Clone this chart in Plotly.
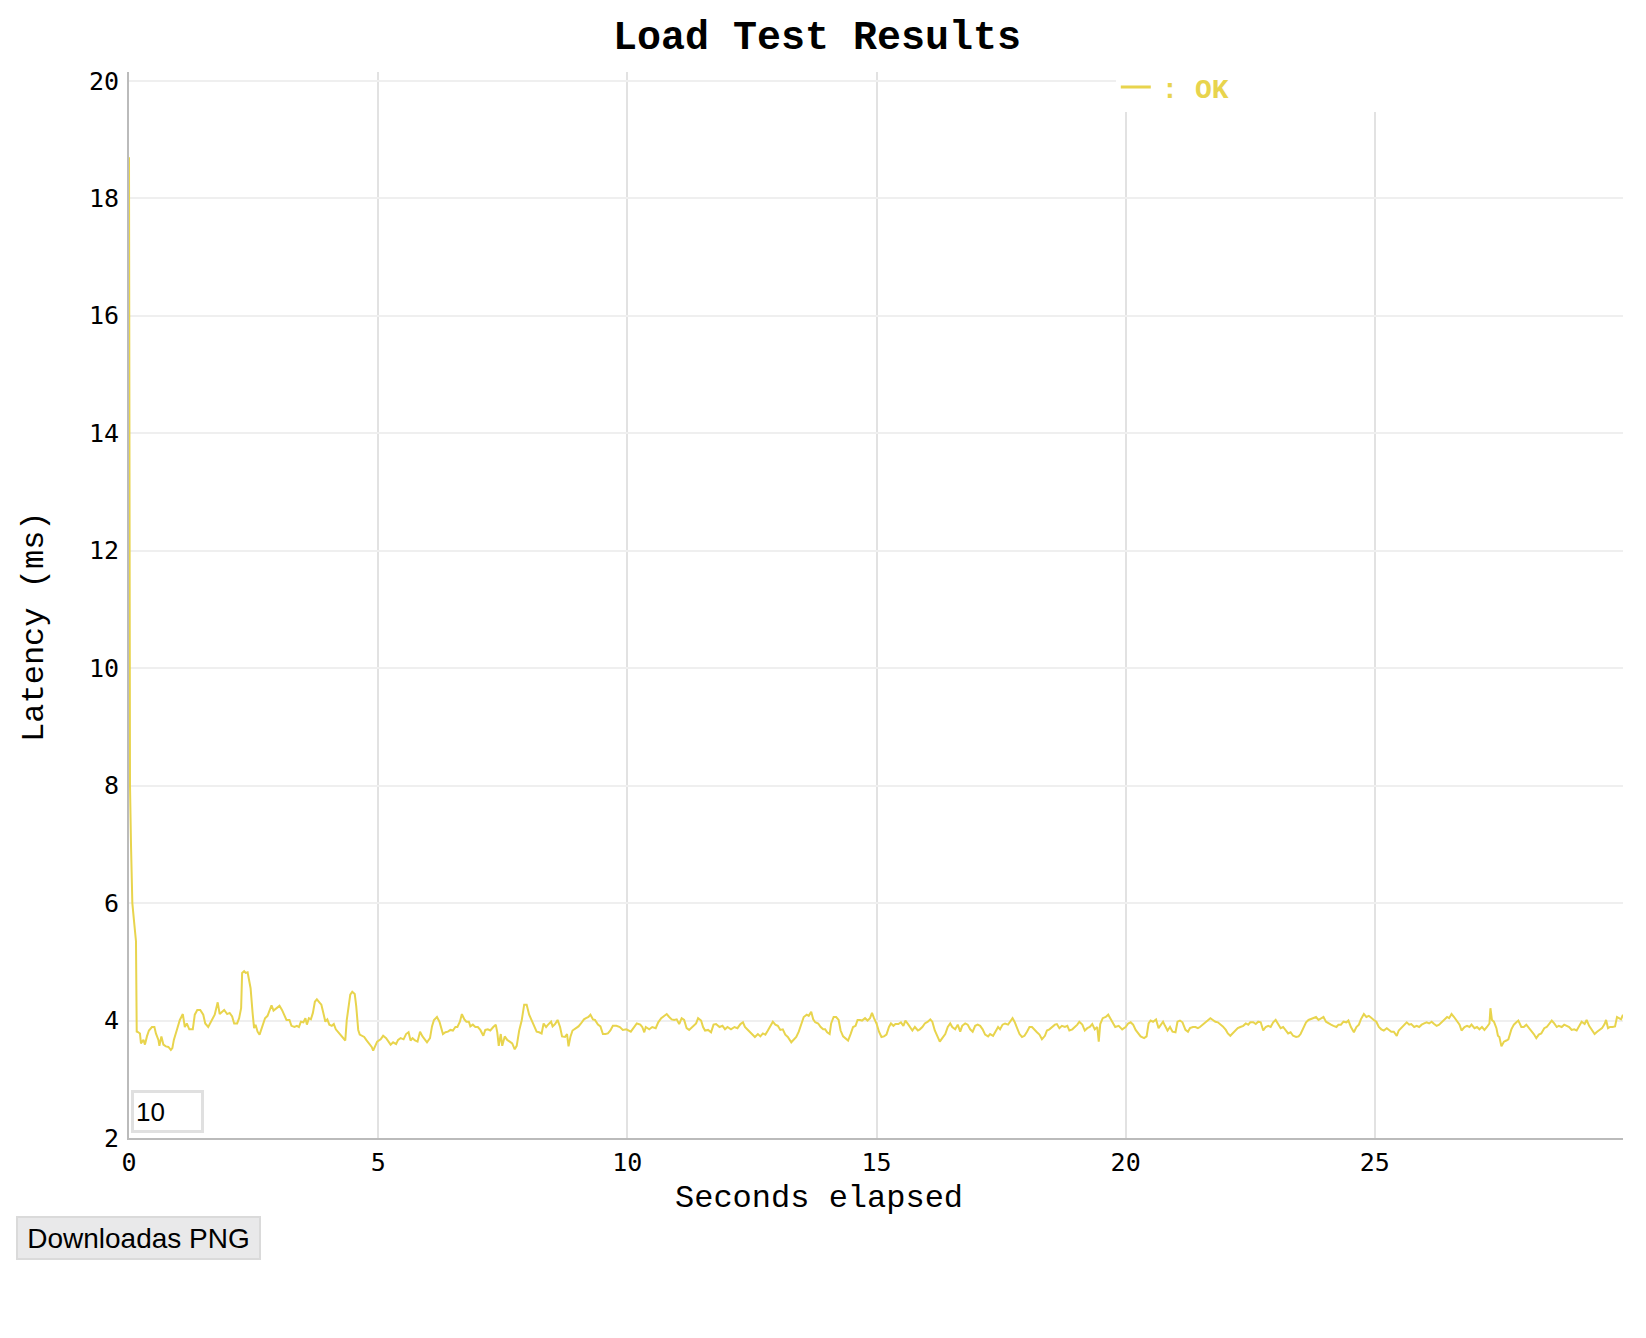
import plotly.graph_objects as go

# Latency samples (seconds elapsed, ms)
seconds = [
    0.0, 0.005, 0.01, 0.02, 0.04, 0.067, 0.1, 0.14, 0.155,
    0.17, 0.22, 0.24, 0.29, 0.32, 0.36, 0.40, 0.46, 0.51, 0.54,
    0.59, 0.61, 0.65, 0.69, 0.74, 0.79, 0.84, 0.87, 0.90, 0.96,
    1.02, 1.08, 1.12, 1.16, 1.21, 1.28, 1.32, 1.37, 1.43, 1.49,
    1.53, 1.59, 1.66, 1.72, 1.78, 1.82, 1.87, 1.91, 1.97, 2.02,
    2.07, 2.11, 2.17, 2.21, 2.25, 2.27, 2.31, 2.34, 2.38, 2.41,
    2.44, 2.48, 2.51, 2.54, 2.58, 2.62, 2.68, 2.73, 2.78, 2.83,
    2.86, 2.90, 2.95, 3.02, 3.07, 3.12, 3.16, 3.22, 3.26, 3.32,
    3.37, 3.41, 3.45, 3.50, 3.54, 3.57, 3.61, 3.65, 3.69, 3.73,
    3.77, 3.82, 3.86, 3.90, 3.94, 3.98, 4.02, 4.07, 4.11, 4.15,
    4.19, 4.24, 4.29, 4.34, 4.37, 4.41, 4.44, 4.48, 4.53, 4.56,
    4.60, 4.63, 4.68, 4.72, 4.76, 4.82, 4.87, 4.90, 4.93, 4.98,
    5.05, 5.10, 5.16, 5.20, 5.25, 5.30, 5.36, 5.40, 5.45, 5.51,
    5.56, 5.61, 5.65, 5.69, 5.74, 5.79, 5.84, 5.89, 5.93, 5.98,
    6.04, 6.08, 6.12, 6.18, 6.23, 6.26, 6.30, 6.35, 6.40, 6.45,
    6.50, 6.55, 6.59, 6.64, 6.68, 6.73, 6.77, 6.82, 6.85, 6.90,
    6.95, 7.00, 7.05, 7.11, 7.15, 7.20, 7.25, 7.31, 7.36, 7.39,
    7.42, 7.46, 7.49, 7.54, 7.59, 7.64, 7.69, 7.74, 7.78, 7.83,
    7.88, 7.93, 7.98, 8.03, 8.08, 8.13, 8.18, 8.23, 8.28, 8.32,
    8.37, 8.41, 8.47, 8.50, 8.55, 8.60, 8.65, 8.69, 8.75, 8.79,
    8.82, 8.86, 8.90, 8.97, 9.02, 9.07, 9.13, 9.17, 9.22, 9.26,
    9.31, 9.35, 9.41, 9.46, 9.51, 9.56, 9.61, 9.66, 9.71, 9.78,
    9.85, 9.91, 9.98,
    10.07, 10.13, 10.19, 10.26, 10.30, 10.34, 10.37, 10.44, 10.50, 10.57,
    10.62, 10.68, 10.74, 10.79, 10.84, 10.89, 10.94, 10.99, 11.04, 11.09,
    11.14, 11.19, 11.24, 11.31, 11.38, 11.42, 11.48, 11.52, 11.56, 11.62,
    11.68, 11.73, 11.78, 11.85, 11.91, 11.96, 12.01, 12.08, 12.15, 12.21,
    12.27, 12.32, 12.36, 12.42, 12.47, 12.52, 12.56, 12.62, 12.67, 12.72,
    12.77, 12.82, 12.87, 12.92, 12.97, 13.02, 13.07, 13.12, 13.17, 13.22,
    13.29, 13.34, 13.39, 13.44, 13.49, 13.54, 13.60, 13.64, 13.69, 13.73,
    13.77, 13.83, 13.88, 13.93, 13.97, 14.01, 14.06, 14.09, 14.14, 14.19,
    14.24, 14.28, 14.33, 14.38, 14.43, 14.48, 14.53, 14.58, 14.62, 14.67,
    14.71, 14.77, 14.82, 14.87, 14.91, 14.95, 15.00, 15.05, 15.10, 15.15,
    15.20, 15.25, 15.29, 15.34, 15.38, 15.44, 15.49, 15.54, 15.58, 15.64,
    15.68, 15.72, 15.77, 15.83, 15.87, 15.92, 15.97, 16.03, 16.08, 16.12,
    16.17, 16.23, 16.27, 16.32, 16.38, 16.43, 16.48, 16.52, 16.58, 16.63,
    16.68, 16.72, 16.78, 16.83, 16.88, 16.93, 16.98, 17.03, 17.08, 17.13,
    17.18, 17.24, 17.28, 17.34, 17.38, 17.44, 17.48, 17.53, 17.58, 17.64,
    17.68, 17.73, 17.77, 17.82, 17.87, 17.92, 17.97, 18.02, 18.07, 18.12,
    18.17, 18.22, 18.27, 18.32, 18.38, 18.42, 18.47, 18.52, 18.58, 18.62,
    18.67, 18.72, 18.78, 18.83, 18.87, 18.93, 18.98, 19.03, 19.07, 19.13,
    19.18, 19.23, 19.28, 19.33, 19.38, 19.43, 19.46, 19.49, 19.54, 19.60,
    19.65, 19.70, 19.74, 19.79, 19.86, 19.93,
    20.00, 20.05, 20.10, 20.15, 20.20, 20.26, 20.30, 20.37, 20.42, 20.46,
    20.50, 20.55, 20.61, 20.66, 20.71, 20.75, 20.79, 20.84, 20.89, 20.94,
    21.00, 21.04, 21.09, 21.14, 21.20, 21.25, 21.29, 21.35, 21.40, 21.45,
    21.49, 21.55, 21.60, 21.65, 21.70, 21.75, 21.80, 21.85, 21.90, 21.95,
    22.01, 22.05, 22.10, 22.15, 22.21, 22.25, 22.30, 22.36, 22.41, 22.46,
    22.50, 22.56, 22.61, 22.66, 22.71, 22.76, 22.81, 22.86, 22.91, 22.96,
    23.01, 23.06, 23.11, 23.16, 23.22, 23.26, 23.31, 23.36, 23.42, 23.47,
    23.51, 23.57, 23.62, 23.67, 23.71, 23.77, 23.82, 23.87, 23.92, 23.97,
    24.02, 24.07, 24.12, 24.17, 24.23, 24.27, 24.32, 24.37, 24.43, 24.47,
    24.52, 24.58, 24.63, 24.68, 24.72, 24.78, 24.83, 24.88, 24.93, 24.98,
    25.03, 25.08, 25.13, 25.18, 25.24, 25.28, 25.33, 25.38, 25.44, 25.48,
    25.53, 25.59, 25.64, 25.69, 25.73, 25.79, 25.84, 25.89, 25.94, 25.99,
    26.04, 26.09, 26.14, 26.19, 26.24, 26.29, 26.34, 26.39, 26.45, 26.49,
    26.54, 26.59, 26.65, 26.70, 26.74, 26.80, 26.85, 26.90, 26.94, 27.00,
    27.05, 27.10, 27.15, 27.20, 27.25, 27.30, 27.32, 27.35, 27.39, 27.44,
    27.47, 27.50, 27.54, 27.59, 27.64, 27.68, 27.74, 27.79, 27.84, 27.88,
    27.94, 27.99, 28.04, 28.08, 28.14, 28.19, 28.24, 28.29, 28.34, 28.40,
    28.45, 28.49, 28.55, 28.60, 28.65, 28.69, 28.75, 28.80, 28.85, 28.90,
    28.95, 29.00, 29.05, 29.10, 29.15, 29.21, 29.25, 29.30, 29.35, 29.41,
    29.46, 29.51, 29.56, 29.61, 29.64, 29.68, 29.72, 29.77, 29.82, 29.86,
    29.90, 29.94, 29.98,
]
latency_ms = [
    18.7, 12.0, 10.0, 8.0, 7.0, 6.0, 5.7, 5.35, 3.8,
    3.81, 3.78, 3.61, 3.67, 3.59, 3.73, 3.83, 3.89, 3.89, 3.78,
    3.67, 3.57, 3.73, 3.59, 3.56, 3.55, 3.50, 3.53, 3.67, 3.84,
    4.01, 4.11, 3.89, 3.95, 3.85, 3.85, 4.10, 4.18, 4.18, 4.10,
    3.95, 3.89, 4.00, 4.10, 4.31, 4.11, 4.15, 4.18, 4.11, 4.13,
    4.07, 3.95, 3.95, 4.04, 4.21, 4.81, 4.84, 4.81, 4.82, 4.64,
    4.55, 4.13, 3.87, 3.93, 3.81, 3.76, 3.90, 4.04, 4.08, 4.18,
    4.26, 4.17, 4.21, 4.25, 4.18, 4.10, 4.01, 4.01, 3.91, 3.89,
    3.91, 3.89, 3.98, 3.97, 4.04, 3.93, 4.04, 4.02, 4.13, 4.32,
    4.36, 4.31, 4.27, 4.13, 3.98, 4.02, 3.93, 3.91, 3.94, 3.85,
    3.81, 3.76, 3.72, 3.66, 4.01, 4.27, 4.44, 4.49, 4.45, 4.24,
    3.84, 3.76, 3.74, 3.72, 3.67, 3.60, 3.55, 3.49, 3.56, 3.64,
    3.68, 3.74, 3.70, 3.64, 3.59, 3.63, 3.60, 3.67, 3.70, 3.68,
    3.77, 3.80, 3.66, 3.70, 3.66, 3.64, 3.81, 3.73, 3.68, 3.63,
    3.70, 3.90, 4.01, 4.06, 3.98, 3.89, 3.77, 3.80, 3.81, 3.84,
    3.83, 3.89, 3.89, 3.98, 4.11, 4.02, 3.98, 3.98, 3.90, 3.93,
    3.89, 3.89, 3.84, 3.74, 3.84, 3.85, 3.83, 3.89, 3.93, 3.80,
    3.57, 3.77, 3.57, 3.73, 3.67, 3.64, 3.61, 3.51, 3.57, 3.83,
    4.00, 4.27, 4.27, 4.10, 4.00, 3.89, 3.81, 3.80, 3.78, 3.95,
    3.89, 3.93, 3.98, 3.90, 3.94, 4.01, 3.89, 3.73, 3.72, 3.77,
    3.56, 3.73, 3.83, 3.87, 3.90, 3.95, 4.02, 4.04, 4.06, 4.10,
    4.02, 4.01, 3.93, 3.90, 3.77, 3.77, 3.78, 3.83, 3.91, 3.91,
    3.89, 3.84, 3.85,
    3.81, 3.89, 3.95, 3.93, 3.89, 3.80, 3.89, 3.85, 3.89, 3.87,
    3.97, 4.04, 4.08, 4.11, 4.06, 4.02, 4.01, 4.02, 3.94, 4.04,
    4.01, 3.87, 3.84, 3.89, 3.95, 4.04, 4.00, 3.89, 3.83, 3.84,
    3.80, 3.93, 3.94, 3.89, 3.91, 3.85, 3.89, 3.85, 3.89, 3.87,
    3.94, 3.97, 3.89, 3.84, 3.80, 3.76, 3.72, 3.77, 3.73, 3.78,
    3.76, 3.83, 3.90, 3.98, 3.93, 3.91, 3.84, 3.85, 3.76, 3.72,
    3.63, 3.68, 3.72, 3.81, 3.93, 4.06, 4.10, 4.08, 4.15, 4.02,
    3.97, 3.95, 3.89, 3.85, 3.85, 3.80, 3.77, 3.95, 4.06, 4.06,
    4.01, 3.83, 3.73, 3.70, 3.66, 3.77, 3.89, 3.91, 4.01, 4.01,
    4.00, 4.04, 4.00, 4.04, 4.13, 4.04, 3.95, 3.81, 3.72, 3.73,
    3.76, 3.89, 3.95, 3.91, 3.94, 3.94, 3.97, 3.91, 4.00, 3.93,
    3.89, 3.83, 3.89, 3.83, 3.85, 3.89, 3.95, 3.98, 4.02, 3.98,
    3.83, 3.73, 3.64, 3.70, 3.77, 3.89, 3.95, 3.89, 3.85, 3.93,
    3.81, 3.91, 3.95, 3.93, 3.85, 3.81, 3.91, 3.93, 3.91, 3.85,
    3.76, 3.73, 3.77, 3.74, 3.80, 3.89, 3.85, 3.93, 3.95, 3.93,
    3.98, 4.04, 3.98, 3.89, 3.77, 3.72, 3.74, 3.81, 3.89, 3.89,
    3.84, 3.80, 3.76, 3.68, 3.74, 3.83, 3.85, 3.89, 3.93, 3.94,
    3.87, 3.91, 3.89, 3.91, 3.83, 3.85, 3.89, 3.93, 3.98, 3.93,
    3.83, 3.87, 3.89, 3.94, 3.85, 3.89, 3.64, 3.94, 4.04, 4.06,
    4.10, 4.02, 3.95, 3.89, 3.91, 3.85,
    3.89, 3.95, 3.97, 3.93, 3.84, 3.77, 3.73, 3.70, 3.73, 3.95,
    4.00, 3.98, 4.02, 3.87, 3.93, 3.98, 3.91, 3.83, 3.89, 3.81,
    3.80, 3.98, 4.00, 3.97, 3.84, 3.81, 3.87, 3.89, 3.89, 3.87,
    3.89, 3.93, 3.97, 4.01, 4.04, 4.01, 3.98, 3.97, 3.94, 3.90,
    3.84, 3.78, 3.74, 3.78, 3.83, 3.87, 3.89, 3.91, 3.95, 3.93,
    3.97, 3.97, 3.94, 3.98, 3.97, 3.83, 3.89, 3.91, 3.89, 3.97,
    4.01, 3.94, 3.87, 3.89, 3.81, 3.78, 3.80, 3.74, 3.72, 3.73,
    3.77, 3.89, 3.97, 4.01, 4.02, 4.04, 4.06, 4.01, 4.04, 4.06,
    3.98, 3.95, 3.93, 3.91, 3.89, 3.93, 3.93, 3.98, 3.97, 4.00,
    3.89, 3.80, 3.89, 3.93, 4.02, 4.11, 4.06, 4.08, 4.04, 4.01,
    3.98, 3.89, 3.85, 3.83, 3.87, 3.84, 3.81, 3.81, 3.74, 3.83,
    3.87, 3.93, 3.97, 3.93, 3.94, 3.89, 3.91, 3.89, 3.93, 3.95,
    3.97, 3.95, 3.98, 3.94, 3.91, 3.93, 3.97, 4.01, 4.06, 4.04,
    4.11, 4.06, 3.98, 3.93, 3.83, 3.89, 3.91, 3.89, 3.93, 3.87,
    3.89, 3.85, 3.89, 3.84, 3.89, 3.95, 4.21, 4.01, 3.98, 3.87,
    3.74, 3.72, 3.56, 3.64, 3.66, 3.68, 3.85, 3.93, 3.97, 4.00,
    3.89, 3.89, 3.93, 3.89, 3.83, 3.77, 3.70, 3.76, 3.78, 3.87,
    3.89, 3.94, 4.00, 3.95, 3.89, 3.91, 3.89, 3.93, 3.91, 3.89,
    3.84, 3.85, 3.83, 3.90, 3.98, 3.94, 4.01, 3.91, 3.84, 3.77,
    3.81, 3.84, 3.87, 3.94, 4.01, 3.87, 3.89, 3.89, 3.90, 4.06,
    4.04, 4.02, 4.10,
]

series_name = "\u2009: OK"
y_ticks = [2, 4, 6, 8, 10, 12, 14, 16, 18, 20]
x_ticks = [0, 5, 10, 15, 20, 25]

LINE = "#e8d44d"
MONO = "Courier New, Liberation Mono, monospace"
TICKF = "DejaVu Sans Mono, monospace"
SANS = "Liberation Sans, Arial, sans-serif"

fig = go.Figure()
fig.add_trace(go.Scatter(x=seconds, y=latency_ms, mode="lines",
                         line=dict(color=LINE, width=2), showlegend=False))
# legend only entry (thicker swatch like the reference)
fig.add_trace(go.Scatter(x=[None], y=[None], mode="lines", name=series_name,
                         line=dict(color=LINE, width=3)))

fig.update_layout(
    width=1630, height=1320,
    margin=dict(l=121, r=13, t=64, b=190),
    paper_bgcolor="white", plot_bgcolor="white",
    title=dict(text="Load Test Results", x=0.4963, xref="container", xanchor="center",
               y=1 - 27 / 1320, yref="container", yanchor="middle",
               font=dict(family=MONO, size=40, color="black", weight="bold")),
    legend=dict(orientation="h", x=0.6605, xanchor="left", y=1.009, yanchor="top",
                bgcolor="white", borderwidth=0, entrywidth=465,
                font=dict(family=MONO, size=28, color=LINE, weight="bold")),
    hovermode=False,
)
fig.update_xaxes(range=[0, 29.98], tickvals=x_ticks, showgrid=True,
                 gridcolor="#e2e2e2", gridwidth=2, zeroline=False,
                 showline=True, linecolor="#bbbbbb", linewidth=2,
                 ticks="", ticklabelstandoff=1,
                 tickfont=dict(family=TICKF, size=25, color="black"))
fig.update_yaxes(range=[2, 20.15], tickvals=y_ticks, showgrid=True,
                 gridcolor="#efefef", gridwidth=2, zeroline=False,
                 showline=True, linecolor="#bbbbbb", linewidth=2,
                 ticks="", ticklabelstandoff=3,
                 tickfont=dict(family=TICKF, size=25, color="black"))

# axis titles placed where the reference shows them
fig.add_annotation(text="Seconds elapsed", xref="paper", yref="paper",
                   x=0.4619, y=-0.0563, showarrow=False, xanchor="center", yanchor="middle",
                   font=dict(family=MONO, size=32, color="black"))
fig.add_annotation(text="Latency (ms)", xref="paper", yref="paper",
                   x=-0.0637, y=0.4793, showarrow=False, textangle=-90,
                   xanchor="center", yanchor="middle",
                   font=dict(family=MONO, size=32, color="black"))

# rolling period box and the download button
fig.add_annotation(text="10", xref="paper", yref="paper",
                   x=0.0013, y=0.0050, xanchor="left", yanchor="bottom",
                   showarrow=False, align="left", width=63, height=33,
                   bgcolor="white", bordercolor="#e0e0e0", borderwidth=3, borderpad=2,
                   font=dict(family=SANS, size=26, color="black"))
fig.add_annotation(text="Downloadas PNG", xref="paper", yref="paper",
                   x=-0.0755, y=-0.0732, xanchor="left", yanchor="top",
                   showarrow=False, align="center", width=241, height=40,
                   bgcolor="#e9e9ea", bordercolor="#dadada", borderwidth=2, borderpad=0,
                   font=dict(family=SANS, size=28, color="black"))

fig.write_html("out.html")
